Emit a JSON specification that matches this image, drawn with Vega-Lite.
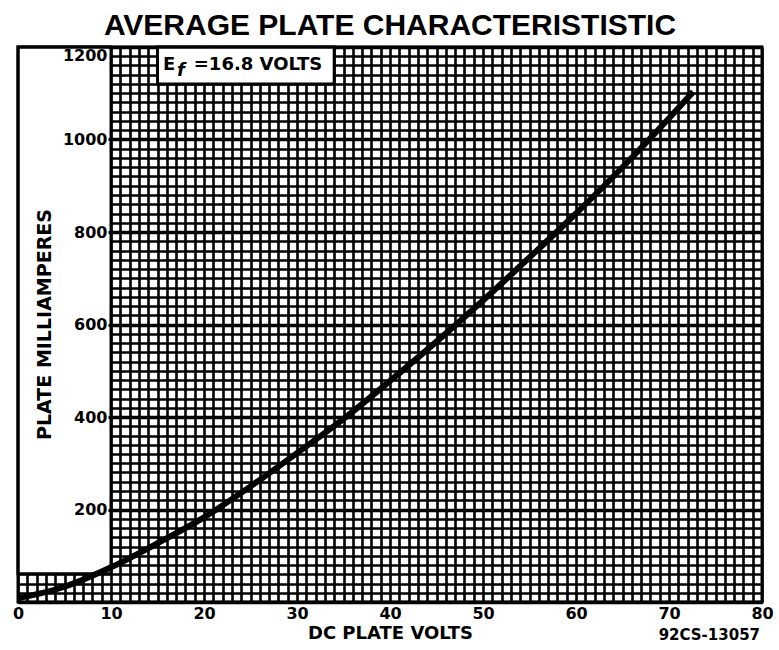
{
  "$schema": "https://vega.github.io/schema/vega-lite/v6.json",
  "width": 744,
  "height": 555,
  "autosize": {"type": "none"},
  "padding": {"left": 18, "top": 47, "right": 17, "bottom": 48},
  "background": "white",
  "title": {"text": "AVERAGE PLATE CHARACTERISTISTIC", "font": "Liberation Sans", "fontSize": 30, "fontWeight": "bold", "color": "black", "anchor": "middle", "offset": 5},
  "config": {"view": {"stroke": null}},
  "resolve": {"axis": {"x": "independent", "y": "independent"}},
  "layer": [
    {
      "data": {"values": [{}]},
      "mark": {"type": "rect", "fill": "white", "stroke": "black", "strokeWidth": 3},
      "encoding": {
        "x": {"datum": 0, "type": "quantitative", "scale": {"domain": [0, 80], "nice": false},
          "axis": {"orient": "bottom", "values": [0,1,2,3,4,5,6,7,8,9,10,11,12,13,14,15,16,17,18,19,20,21,22,23,24,25,26,27,28,29,30,31,32,33,34,35,36,37,38,39,40,41,42,43,44,45,46,47,48,49,50,51,52,53,54,55,56,57,58,59,60,61,62,63,64,65,66,67,68,69,70,71,72,73,74,75,76,77,78,79,80],
            "grid": true, "gridColor": "black", "gridWidth": 2.6, "gridOpacity": 1, "labels": false, "ticks": false, "domain": false, "title": null}},
        "x2": {"datum": 10},
        "y": {"datum": 61, "type": "quantitative", "scale": {"domain": [0, 1200], "nice": false},
          "axis": {"orient": "left", "values": [0,20,40,60,80,100,120,140,160,180,200,220,240,260,280,300,320,340,360,380,400,420,440,460,480,500,520,540,560,580,600,620,640,660,680,700,720,740,760,780,800,820,840,860,880,900,920,940,960,980,1000,1020,1040,1060,1080,1100,1120,1140,1160,1180,1200],
            "grid": true, "gridColor": "black", "gridWidth": 2.6, "gridOpacity": 1, "labels": false, "ticks": false, "domain": false, "title": null}},
        "y2": {"datum": 1200}
      }
    },
    {
      "data": {"values": [{}]},
      "mark": {"type": "rect", "fill": "white", "stroke": "black", "strokeWidth": 3},
      "encoding": {
        "x": {"datum": 15, "type": "quantitative", "scale": {"domain": [0, 80], "nice": false},
          "axis": {"orient": "bottom", "values": [0,10,20,30,40,50,60,70,80], "grid": false, "domain": false, "ticks": false, "tickSize": 0, "labelPadding": 3,
            "labelFont": "DejaVu Sans", "labelFontWeight": "bold", "labelFontSize": 16, "labelColor": "black", "labelFlush": false,
            "title": "DC  PLATE  VOLTS", "titleFont": "DejaVu Sans", "titleFontSize": 18, "titleFontWeight": "bold", "titleColor": "black", "titlePadding": 3}},
        "x2": {"datum": 34},
        "y": {"datum": 1120, "type": "quantitative", "scale": {"domain": [0, 1200], "nice": false},
          "axis": {"orient": "left", "values": [0,200,400,600,800,1000,1200], "grid": true, "gridColor": "black", "gridWidth": 3.6, "gridOpacity": 1, "labels": false, "ticks": false, "domain": false, "title": null}},
        "y2": {"datum": 1200}
      }
    },
    {
      "data": {"values": [{}]},
      "mark": {"type": "rect", "fillOpacity": 0, "stroke": "black", "strokeWidth": 3},
      "encoding": {
        "x": {"datum": 0, "type": "quantitative", "scale": {"domain": [0, 80], "nice": false}, "axis": null},
        "x2": {"datum": 80},
        "y": {"datum": 0, "type": "quantitative", "scale": {"domain": [0, 1200], "nice": false},
          "axis": {"orient": "left", "offset": -93, "values": [200,400,600,800,1000,1200], "format": "d", "grid": false, "domain": false, "ticks": true, "tickSize": 3, "tickWidth": 3, "tickColor": "black",
            "labelPadding": 1, "labelFlush": true, "labelFlushOffset": 0, "labelFont": "DejaVu Sans", "labelFontWeight": "bold", "labelFontSize": 16, "labelColor": "black",
            "title": "PLATE MILLIAMPERES", "titleFont": "DejaVu Sans", "titleFontSize": 19, "titleFontWeight": "bold", "titleColor": "black",
            "titleX": -67, "titleY": 277, "titleAngle": -90, "titleAlign": "center", "titleBaseline": "middle", "zindex": 1}},
        "y2": {"datum": 1200}
      }
    },
    {
      "data": {"values": [
        {"volts": 0, "ma": 8},
        {"volts": 5, "ma": 33},
        {"volts": 10, "ma": 75},
        {"volts": 15, "ma": 127},
        {"volts": 20, "ma": 183},
        {"volts": 25, "ma": 250},
        {"volts": 30, "ma": 322},
        {"volts": 35, "ma": 396},
        {"volts": 40, "ma": 478},
        {"volts": 45, "ma": 563},
        {"volts": 50, "ma": 652},
        {"volts": 55, "ma": 745},
        {"volts": 60, "ma": 840},
        {"volts": 65, "ma": 940},
        {"volts": 70, "ma": 1046},
        {"volts": 72.6, "ma": 1103}
      ]},
      "mark": {"type": "line", "color": "black", "strokeWidth": 6, "interpolate": "monotone"},
      "encoding": {
        "x": {"field": "volts", "type": "quantitative", "scale": {"domain": [0, 80], "nice": false}, "axis": null},
        "y": {"field": "ma", "type": "quantitative", "scale": {"domain": [0, 1200], "nice": false}, "axis": null}
      }
    },
    {
      "data": {"values": [{}]},
      "mark": {"type": "text", "font": "DejaVu Sans", "fontWeight": "bold", "fontSize": 18, "color": "black", "align": "left", "baseline": "middle"},
      "encoding": {
        "x": {"datum": 15.6, "type": "quantitative", "scale": {"domain": [0, 80], "nice": false}, "axis": null},
        "y": {"datum": 1161, "type": "quantitative", "scale": {"domain": [0, 1200], "nice": false}, "axis": null},
        "text": {"value": "E"}
      }
    },
    {
      "data": {"values": [{}]},
      "mark": {"type": "text", "font": "DejaVu Sans", "fontWeight": "bold", "fontStyle": "italic", "fontSize": 18, "color": "black", "align": "left", "baseline": "middle"},
      "encoding": {
        "x": {"datum": 17.1, "type": "quantitative", "scale": {"domain": [0, 80], "nice": false}, "axis": null},
        "y": {"datum": 1149, "type": "quantitative", "scale": {"domain": [0, 1200], "nice": false}, "axis": null},
        "text": {"value": "f"}
      }
    },
    {
      "data": {"values": [{}]},
      "mark": {"type": "text", "font": "DejaVu Sans", "fontWeight": "bold", "fontSize": 18, "color": "black", "align": "left", "baseline": "middle"},
      "encoding": {
        "x": {"datum": 18.9, "type": "quantitative", "scale": {"domain": [0, 80], "nice": false}, "axis": null},
        "y": {"datum": 1161, "type": "quantitative", "scale": {"domain": [0, 1200], "nice": false}, "axis": null},
        "text": {"value": "=16.8 VOLTS"}
      }
    },
    {
      "data": {"values": [{}]},
      "mark": {"type": "text", "font": "DejaVu Sans", "fontWeight": "bold", "fontSize": 15, "color": "black", "align": "right", "baseline": "top", "dy": 26, "dx": -2},
      "encoding": {
        "x": {"datum": 80, "type": "quantitative", "scale": {"domain": [0, 80], "nice": false}, "axis": null},
        "y": {"datum": 0, "type": "quantitative", "scale": {"domain": [0, 1200], "nice": false}, "axis": null},
        "text": {"value": "92CS-13057"}
      }
    }
  ]
}
